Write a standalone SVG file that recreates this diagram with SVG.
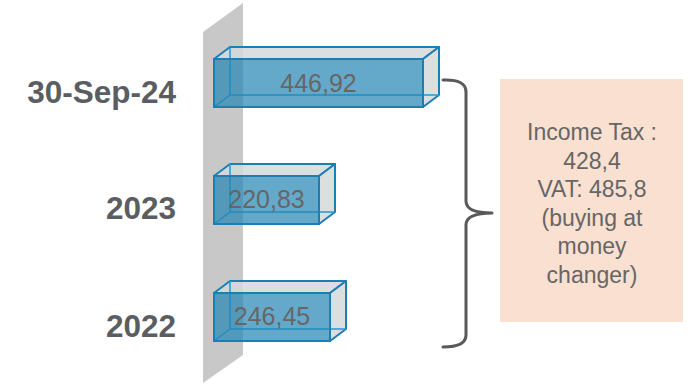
<svg xmlns="http://www.w3.org/2000/svg" width="690" height="385" viewBox="0 0 690 385">
  <style>
    .wall { fill: #c8c8c8; }
    .side { fill: #d6d9da; fill-opacity: 0.85; stroke: #1b7fb3; stroke-width: 2; stroke-linejoin: round; }
    .back { fill: none; stroke: #1f9ad6; stroke-width: 1.5; }
    .front { fill: #2384b3; fill-opacity: 0.7; stroke: #1b7fb3; stroke-width: 2; }
    .val { font-family: "Liberation Sans", Arial, sans-serif; font-size: 25px; fill: #666666; text-anchor: middle; }
    .year { font-family: "Liberation Sans", Arial, sans-serif; font-size: 31.5px; font-weight: bold; fill: #5a5d61; text-anchor: end; }
    .note { font-family: "Liberation Sans", Arial, sans-serif; font-size: 23px; fill: #666666; text-anchor: middle; }
    .brace { fill: none; stroke: #595959; stroke-width: 3; stroke-linecap: round; stroke-linejoin: round; }
  </style>

  <!-- backing wall -->
  <polygon class="wall" points="203,32 243,3 243,355 203,383"/>

  <!-- bar: 30-Sep-24 -->
  <g id="bar-2024">
    <polygon class="side" points="214,59 230,47 439,47 423,59"/>
    <polygon class="side" points="423,59 439,47 439,95 423,107"/>
    <path class="back" d="M230,47 L230,95 L439,95 M214,107 L230,95"/>
    <rect class="front" x="214" y="59" width="209" height="48"/>
    <text class="val" x="318.5" y="92">446,92</text>
  </g>

  <!-- bar: 2023 -->
  <g id="bar-2023">
    <polygon class="side" points="214,176 230,164 335,164 319,176"/>
    <polygon class="side" points="319,176 335,164 335,212 319,224"/>
    <path class="back" d="M230,164 L230,212 L335,212 M214,224 L230,212"/>
    <rect class="front" x="214" y="176" width="105" height="48"/>
    <text class="val" x="266.5" y="208">220,83</text>
  </g>

  <!-- bar: 2022 -->
  <g id="bar-2022">
    <polygon class="side" points="214,293 230,281 346,281 330,293"/>
    <polygon class="side" points="330,293 346,281 346,329 330,341"/>
    <path class="back" d="M230,281 L230,329 L346,329 M214,341 L230,329"/>
    <rect class="front" x="214" y="293" width="116" height="48"/>
    <text class="val" x="272" y="325">246,45</text>
  </g>

  <!-- period labels -->
  <g id="labels">
    <text class="year" x="176" y="103">30-Sep-24</text>
    <text class="year" x="176" y="219">2023</text>
    <text class="year" x="176" y="337">2022</text>
  </g>

  <!-- connector: brace grouping all bars -->
  <g id="connectors">
    <path class="brace" d="M443,80 Q466,79 466,92 L466,201 Q466,213 492,213 Q466,213 466,225 L466,335 Q466,347 443,347"/>
  </g>

  <!-- note box -->
  <g id="note">
    <rect x="500" y="79" width="183" height="243" fill="#f9e0d0"/>
    <text class="note" x="592" y="140">Income Tax :</text>
    <text class="note" x="592" y="168.5">428,4</text>
    <text class="note" x="592" y="197">VAT: 485,8</text>
    <text class="note" x="592" y="225.5">(buying at</text>
    <text class="note" x="592" y="254">money</text>
    <text class="note" x="592" y="282.5">changer)</text>
  </g>
</svg>
